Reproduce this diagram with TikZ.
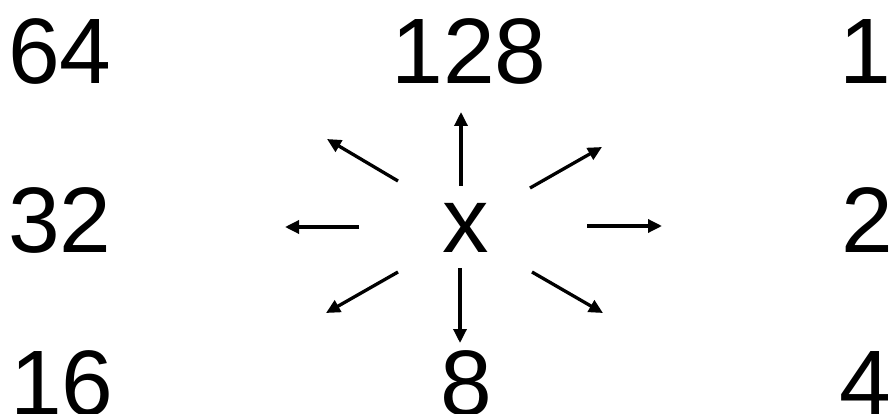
\documentclass[tikz,border=0pt]{standalone}
\usepackage{fontspec}
\setmainfont{Liberation Sans}
\usepackage{tikz}
\usetikzlibrary{arrows.meta, positioning}

\begin{document}
\begin{tikzpicture}[
    x=1pt, y=-1pt,
    every node/.style={inner sep=0pt, font=\fontsize{93}{93}\selectfont},
    num/.style={anchor=base},
    numleft/.style={anchor=base west},
    arrow/.style={-{Triangle[length=14pt, width=13pt]}, line width=3.3pt}
]
    \useasboundingbox (0,0) rectangle (891,414);

    % Centre
    \node[num] (x) at (466,252) {x};

    % Weights round the centre
    \node[numleft] (n64) at (8,84) {64};
    \node[num] (n128) at (469,84) {128};
    \node[numleft] (n1) at (839,84) {1};
    \node[numleft] (n32) at (8,252) {32};
    \node[numleft] (n2) at (841,252) {2};
    \node[numleft] (n16) at (10,415) {16};
    \node[num] (n8) at (466,415) {8};
    \node[numleft] (n4) at (839,415) {4};

    % Arrow ends
    \coordinate (tailN) at (461,186);  \coordinate (headN) at (461,112);
    \coordinate (tailNW) at (398,181); \coordinate (headNW) at (327,139);
    \coordinate (tailNE) at (530,188); \coordinate (headNE) at (602,147);
    \coordinate (tailW) at (359,227);  \coordinate (headW) at (285,227);
    \coordinate (tailE) at (587,226);  \coordinate (headE) at (662,226);
    \coordinate (tailSW) at (398,272); \coordinate (headSW) at (326,313);
    \coordinate (tailS) at (460,268);  \coordinate (headS) at (460,343);
    \coordinate (tailSE) at (532,272); \coordinate (headSE) at (603,313);

    % Arrows
    \foreach \d in {N, NW, NE, W, E, SW, S, SE} {
        \draw[arrow] (tail\d) -- (head\d);
    }
\end{tikzpicture}
\end{document}
